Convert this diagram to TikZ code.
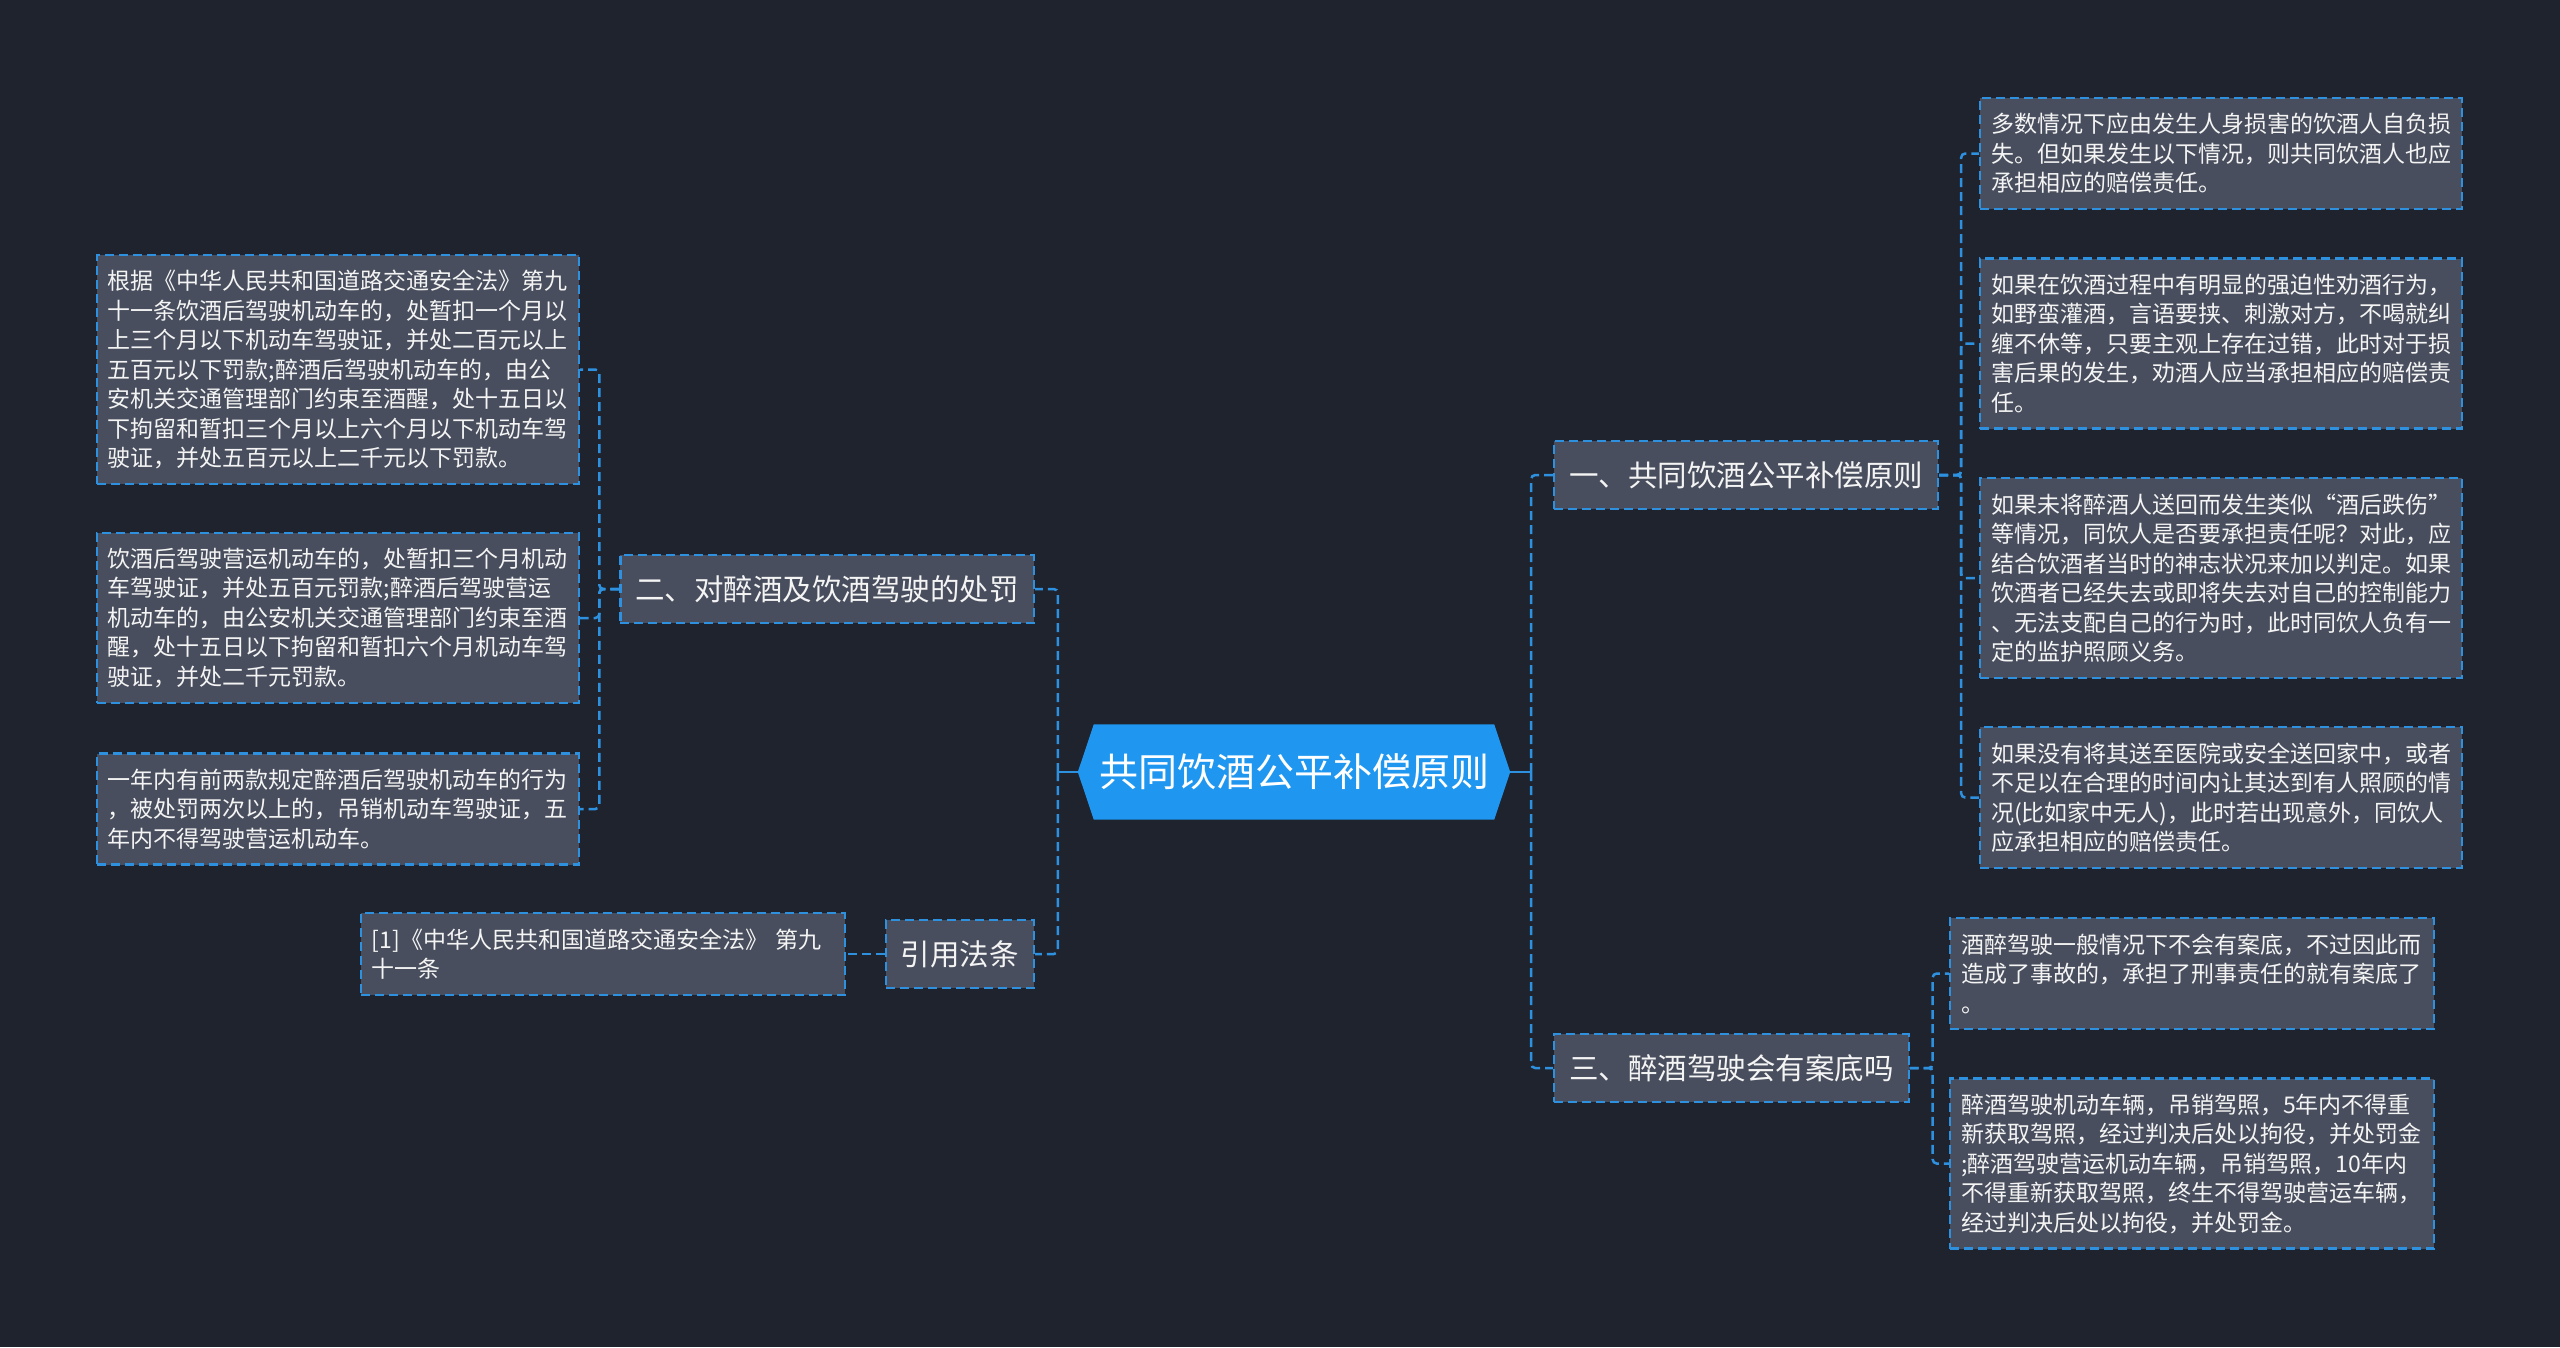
\documentclass[tikz,border=0pt]{standalone}
\usepackage{fontspec}
\newfontfamily\cjk{Noto Sans CJK SC}
\usetikzlibrary{calc}
\pgfdeclarelayer{bg}
\pgfsetlayers{bg,main}
\definecolor{bgc}{HTML}{1F232E}
\definecolor{boxfill}{HTML}{484E5D}
\definecolor{lineblue}{HTML}{2D91E0}
\definecolor{rootblue}{HTML}{1F97F0}
\definecolor{txt}{HTML}{F4F4F4}
\tikzset{
  leaf/.style={draw=lineblue, fill=boxfill, line width=2.2pt, dash pattern=on 9pt off 5pt,
    text=txt, font=\cjk\fontsize{23pt}{29.5pt}\selectfont, text width=460pt, align=left,
    inner xsep=11pt, inner ysep=0pt},
  mainbox/.style={draw=lineblue, fill=boxfill, line width=2.2pt, dash pattern=on 9pt off 5pt,
    text=txt, font=\cjk\fontsize{29.5pt}{35pt}\selectfont, inner xsep=15pt, inner ysep=0pt,
    minimum height=68pt},
  conn/.style={draw=lineblue, line width=2.5pt, dash pattern=on 9pt off 5pt, rounded corners=4pt},
  solidconn/.style={draw=lineblue, line width=2.5pt}
}
\begin{document}
\begin{tikzpicture}[x=1pt,y=-1pt]
\begin{pgfonlayer}{bg}
\fill[bgc] (0,0) rectangle (2560,1347);
\end{pgfonlayer}
\useasboundingbox (0,0) rectangle (2560,1347);

% root
\node[text=white, font=\cjk\fontsize{39pt}{45pt}\selectfont, minimum width=400pt, minimum height=95pt, inner sep=0pt] (root) at (1294,772) {共同饮酒公平补偿原则};
\begin{pgfonlayer}{bg}
\fill[rootblue] (root.north west) -- (root.north east) -- ([xshift=16pt]root.east) -- (root.south east) -- (root.south west) -- ([xshift=-16pt]root.west) -- cycle;
\end{pgfonlayer}
\coordinate (rl) at ([xshift=-16pt]root.west);
\coordinate (rr) at ([xshift=16pt]root.east);

% main branches
\node[mainbox, anchor=west] (b1) at (1553,475) {一、共同饮酒公平补偿原则};
\node[mainbox, anchor=east] (b2) at (1035,589) {二、对醉酒及饮酒驾驶的处罚};
\node[mainbox, anchor=west] (b3) at (1553,1068) {三、醉酒驾驶会有案底吗};
\node[mainbox, anchor=east] (b4) at (1035,954) {引用法条};

% left leaves
\node[leaf, anchor=east, minimum height=229pt] (l1) at (580,369.5) {根据《中华人民共和国道路交通安全法》第九\\十一条饮酒后驾驶机动车的，处暂扣一个月以\\上三个月以下机动车驾驶证，并处二百元以上\\五百元以下罚款;醉酒后驾驶机动车的，由公\\安机关交通管理部门约束至酒醒，处十五日以\\下拘留和暂扣三个月以上六个月以下机动车驾\\驶证，并处五百元以上二千元以下罚款。};
\node[leaf, anchor=east, minimum height=170pt] (l2) at (580,618) {饮酒后驾驶营运机动车的，处暂扣三个月机动\\车驾驶证，并处五百元罚款;醉酒后驾驶营运\\机动车的，由公安机关交通管理部门约束至酒\\醒，处十五日以下拘留和暂扣六个月机动车驾\\驶证，并处二千元罚款。};
\node[leaf, anchor=east, minimum height=111pt] (l3) at (580,809) {一年内有前两款规定醉酒后驾驶机动车的行为\\，被处罚两次以上的，吊销机动车驾驶证，五\\年内不得驾驶营运机动车。};
\node[leaf, anchor=east, minimum height=81.5pt, text width=462pt] (ref) at (846,954) {[1]《中华人民共和国道路交通安全法》 第九\\十一条};

% right leaves
\node[leaf, anchor=west, minimum height=111pt] (r1) at (1979,153.5) {多数情况下应由发生人身损害的饮酒人自负损\\失。但如果发生以下情况，则共同饮酒人也应\\承担相应的赔偿责任。};
\node[leaf, anchor=west, minimum height=170pt] (r2) at (1979,343.5) {如果在饮酒过程中有明显的强迫性劝酒行为，\\如野蛮灌酒，言语要挟、刺激对方，不喝就纠\\缠不休等，只要主观上存在过错，此时对于损\\害后果的发生，劝酒人应当承担相应的赔偿责\\任。};
\node[leaf, anchor=west, minimum height=199.5pt] (r3) at (1979,578) {如果未将醉酒人送回而发生类似“酒后跌伤”\\等情况，同饮人是否要承担责任呢？对此，应\\结合饮酒者当时的神志状况来加以判定。如果\\饮酒者已经失去或即将失去对自己的控制能力\\、无法支配自己的行为时，此时同饮人负有一\\定的监护照顾义务。};
\node[leaf, anchor=west, minimum height=140.5pt] (r4) at (1979,797.5) {如果没有将其送至医院或安全送回家中，或者\\不足以在合理的时间内让其达到有人照顾的情\\况(比如家中无人)，此时若出现意外，同饮人\\应承担相应的赔偿责任。};
\node[leaf, anchor=west, minimum height=111pt, text width=462pt] (r5) at (1949,973.5) {酒醉驾驶一般情况下不会有案底，不过因此而\\造成了事故的，承担了刑事责任的就有案底了\\。};
\node[leaf, anchor=west, minimum height=170pt, text width=462pt] (r6) at (1949,1163.5) {醉酒驾驶机动车辆，吊销驾照，5年内不得重\\新获取驾照，经过判决后处以拘役，并处罚金\\;醉酒驾驶营运机动车辆，吊销驾照，10年内\\不得重新获取驾照，终生不得驾驶营运车辆，\\经过判决后处以拘役，并处罚金。};

% connectors from root
\draw[solidconn] (rl) -- ++(-20pt,0) coordinate (rls);
\draw[conn] (rls) |- (b2.east);
\draw[conn] (rls) |- (b4.east);
\draw[solidconn] (rr) -- ++(21pt,0) coordinate (rrs);
\draw[conn] (rrs) |- (b1.west);
\draw[conn] (rrs) |- (b3.west);

% branch two
\draw[conn] (b2.west) -- ++(-20pt,0) |- (l1.east);
\draw[conn] (b2.west) -- ++(-20pt,0) |- (l2.east);
\draw[conn] (b2.west) -- ++(-20pt,0) |- (l3.east);
% citation
\draw[conn] (b4.west) -- (ref.east);
% branch one
\draw[conn] (b1.east) -- ++(22pt,0) |- (r1.west);
\draw[conn] (b1.east) -- ++(22pt,0) |- (r2.west);
\draw[conn] (b1.east) -- ++(22pt,0) |- (r3.west);
\draw[conn] (b1.east) -- ++(22pt,0) |- (r4.west);
% branch three
\draw[conn] (b3.east) -- ++(23pt,0) |- (r5.west);
\draw[conn] (b3.east) -- ++(23pt,0) |- (r6.west);
\end{tikzpicture}
\end{document}
